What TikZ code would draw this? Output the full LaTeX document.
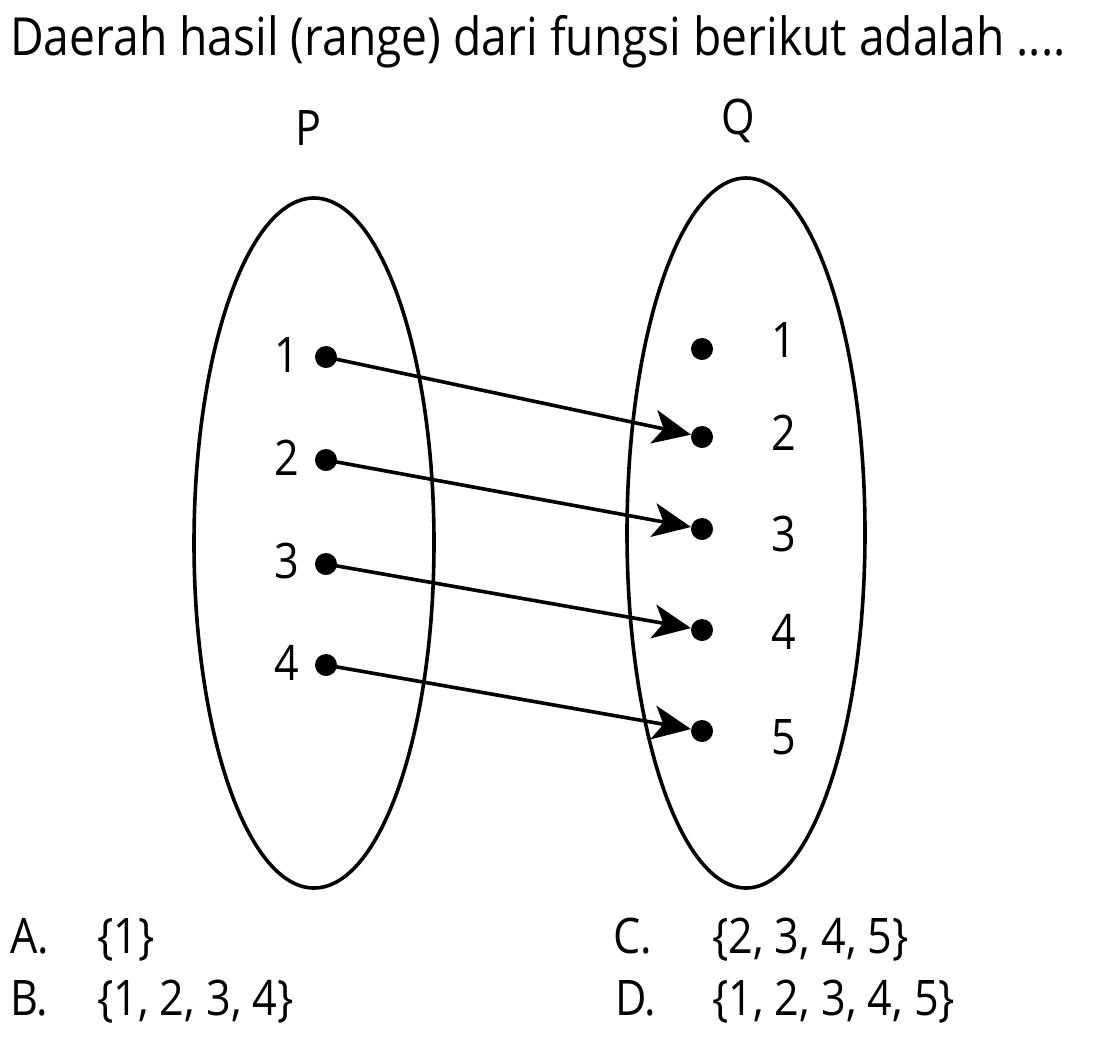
\documentclass[tikz,border=0pt]{standalone}
\usepackage{fontspec}
\setmainfont[FakeStretch=0.88]{Open Sans}
\usetikzlibrary{arrows.meta}
\begin{document}
\begin{tikzpicture}[x=1pt,y=-1pt,
  txt/.style={font=\fontsize{49}{58}\selectfont, inner sep=0pt},
  ttl/.style={font=\fontsize{52.5}{62}\selectfont, inner sep=0pt},
  dotn/.style={circle, fill=black, inner sep=0pt, minimum size=22pt},
  setell/.style={draw=black, line width=3.6pt},
  arr/.style={line width=3.6pt, -{Stealth[length=38pt,width=34pt,inset=10pt]}}]
\useasboundingbox (0,0) rectangle (1097,1047);
% title
\node[ttl, anchor=base west] (title) at (10,55) {Daerah hasil (range) dari fungsi berikut adalah ....};
% set labels
\node[txt, anchor=base] (lP) at (308,145) {P};
\node[txt, anchor=base] (lQ) at (738,134) {Q};
% ellipses
\draw[setell] (314,543) ellipse [x radius=120pt, y radius=345pt];
\draw[setell] (746,533) ellipse [x radius=119pt, y radius=355pt];
% P elements
\node[dotn] (p1) at (326,357) {};
\node[dotn] (p2) at (326,460) {};
\node[dotn] (p3) at (326,564) {};
\node[dotn] (p4) at (326,665) {};
\node[txt, anchor=base] (tp1) at (287,372) {1};
\node[txt, anchor=base] (tp2) at (287,475) {2};
\node[txt, anchor=base] (tp3) at (287,578) {3};
\node[txt, anchor=base] (tp4) at (287,680) {4};
% Q elements
\node[dotn] (q1) at (702,349) {};
\node[dotn] (q2) at (702,437) {};
\node[dotn] (q3) at (702,529) {};
\node[dotn] (q4) at (702,630) {};
\node[dotn] (q5) at (702,731) {};
\node[txt, anchor=base] (tq1) at (784,357) {1};
\node[txt, anchor=base] (tq2) at (784,450) {2};
\node[txt, anchor=base] (tq3) at (784,551) {3};
\node[txt, anchor=base] (tq4) at (784,649) {4};
\node[txt, anchor=base] (tq5) at (784,754) {5};
% arrows
\draw[arr] (p1.center) -- (q2);
\draw[arr] (p2.center) -- (q3);
\draw[arr] (p3.center) -- (q4);
\draw[arr] (p4.center) -- (q5);
% options
\node[txt, anchor=base west] (oA) at (10,953) {A.};
\node[txt, anchor=base west] (vA) at (97,953) {\{1\}};
\node[txt, anchor=base west] (oB) at (10,1015) {B.};
\node[txt, anchor=base west] (vB) at (97,1015) {\{1, 2, 3, 4\}};
\node[txt, anchor=base west] (oC) at (613,953) {C.};
\node[txt, anchor=base west] (vC) at (712,953) {\{2, 3, 4, 5\}};
\node[txt, anchor=base west] (oD) at (615,1015) {D.};
\node[txt, anchor=base west] (vD) at (712,1015) {\{1, 2, 3, 4, 5\}};
\end{tikzpicture}
\end{document}
